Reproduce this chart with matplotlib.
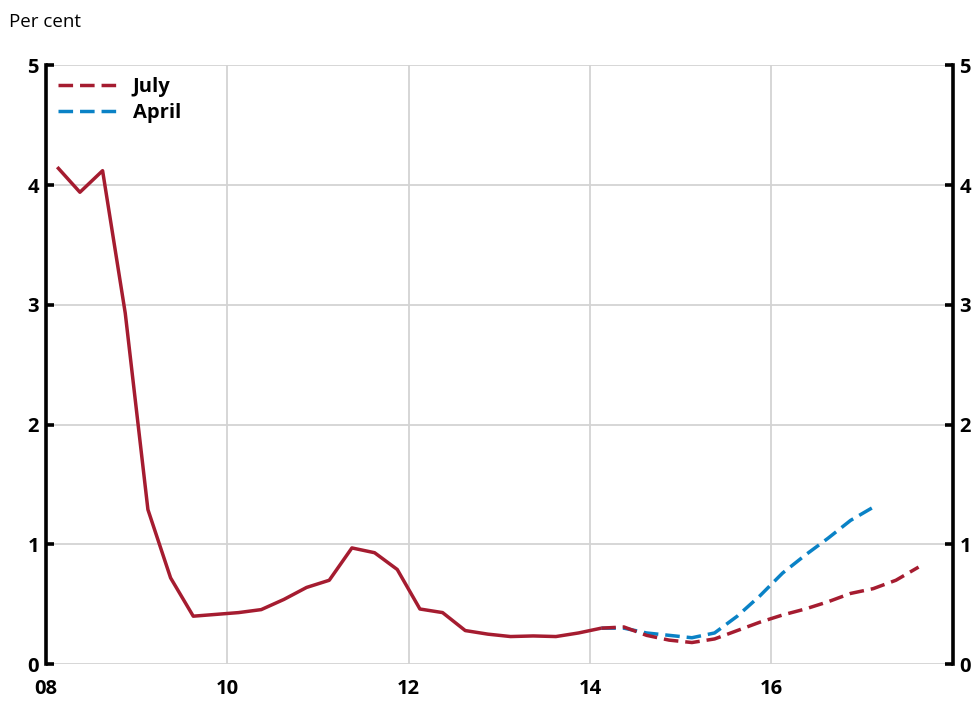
import matplotlib
matplotlib.use("Agg")
import matplotlib.pyplot as plt

# Quarterly data, plotted at mid-quarter
hist_x = [2008.125, 2008.375, 2008.625, 2008.875, 2009.125, 2009.375, 2009.625, 2009.875,
          2010.125, 2010.375, 2010.625, 2010.875, 2011.125, 2011.375, 2011.625, 2011.875,
          2012.125, 2012.375, 2012.625, 2012.875, 2013.125, 2013.375, 2013.625, 2013.875,
          2014.125]
hist_y = [4.15, 3.94, 4.12, 2.93, 1.29, 0.72, 0.40, 0.415,
          0.43, 0.455, 0.54, 0.64, 0.70, 0.97, 0.93, 0.79,
          0.46, 0.43, 0.28, 0.25, 0.23, 0.235, 0.23, 0.26,
          0.30]

july_x = [2014.125, 2014.375, 2014.625, 2014.875, 2015.125, 2015.375, 2015.625, 2015.875,
          2016.125, 2016.375, 2016.625, 2016.875, 2017.125, 2017.375, 2017.625]
july_y = [0.30, 0.31, 0.24, 0.20, 0.18, 0.21, 0.28, 0.35,
          0.41, 0.46, 0.52, 0.59, 0.63, 0.70, 0.81]

april_x = [2014.125, 2014.375, 2014.625, 2014.875, 2015.125, 2015.375, 2015.625, 2015.875,
           2016.125, 2016.375, 2016.625, 2016.875, 2017.125]
april_y = [0.30, 0.30, 0.26, 0.24, 0.22, 0.26, 0.40, 0.57,
           0.76, 0.91, 1.05, 1.20, 1.31]

xticks = [2008, 2010, 2012, 2014, 2016]
xlabels = ["08", "10", "12", "14", "16"]
yticks = [0, 1, 2, 3, 4, 5]

RED = "#A51C30"
BLUE = "#0A82C6"
GRID = "#d3d3d3"

plt.rcParams["font.family"] = ["Open Sans", "DejaVu Sans"]

fig = plt.figure(figsize=(9.77, 7.02), dpi=100)
ax = fig.add_axes((0.047, 0.054, 0.928, 0.853))

# lines
ax.plot(hist_x, hist_y, color=RED, lw=2.5, solid_capstyle="butt", zorder=3)
ax.plot(april_x, april_y, color=BLUE, lw=2.5, dashes=(4.2, 2.0), label="April", zorder=4)
ax.plot(july_x, july_y, color=RED, lw=2.5, dashes=(4.2, 2.0), label="July", zorder=5)

ax.set_xlim(2008, 2018)
ax.set_ylim(0, 5)
ax.set_xticks(xticks)
ax.set_xticklabels(xlabels)
ax.set_yticks(yticks)

# grid
ax.grid(True, color=GRID, lw=1.3)
ax.set_axisbelow(True)

# spines
for s in ["top", "bottom"]:
    ax.spines[s].set_visible(False)
for s in ["left", "right"]:
    ax.spines[s].set_linewidth(2.6)
    ax.spines[s].set_color("black")

ax.tick_params(axis="x", length=0, pad=11, labelsize=14.5)
ax.tick_params(axis="y", direction="in", length=6, width=2.6, pad=5, labelsize=14.5,
               left=True, right=True, labelleft=True, labelright=True)
for lab in ax.get_xticklabels() + ax.get_yticklabels():
    lab.set_fontweight("bold")
for t in ax.yaxis.get_major_ticks():
    t.label2.set_fontweight("bold")

# legend: July first, then April
handles, labels = ax.get_legend_handles_labels()
order = [labels.index("July"), labels.index("April")]
leg = ax.legend([handles[i] for i in order], [labels[i] for i in order],
                loc="upper left", bbox_to_anchor=(0.0, 1.0), frameon=False,
                handlelength=3.1, handletextpad=0.6, labelspacing=0.3,
                borderpad=0.0, borderaxespad=0.6, prop={"weight": "bold", "size": 14.5})

fig.text(0.009, 0.968, "Per cent", fontsize=13.5, ha="left", va="center")

fig.savefig("out.png", dpi=100)
